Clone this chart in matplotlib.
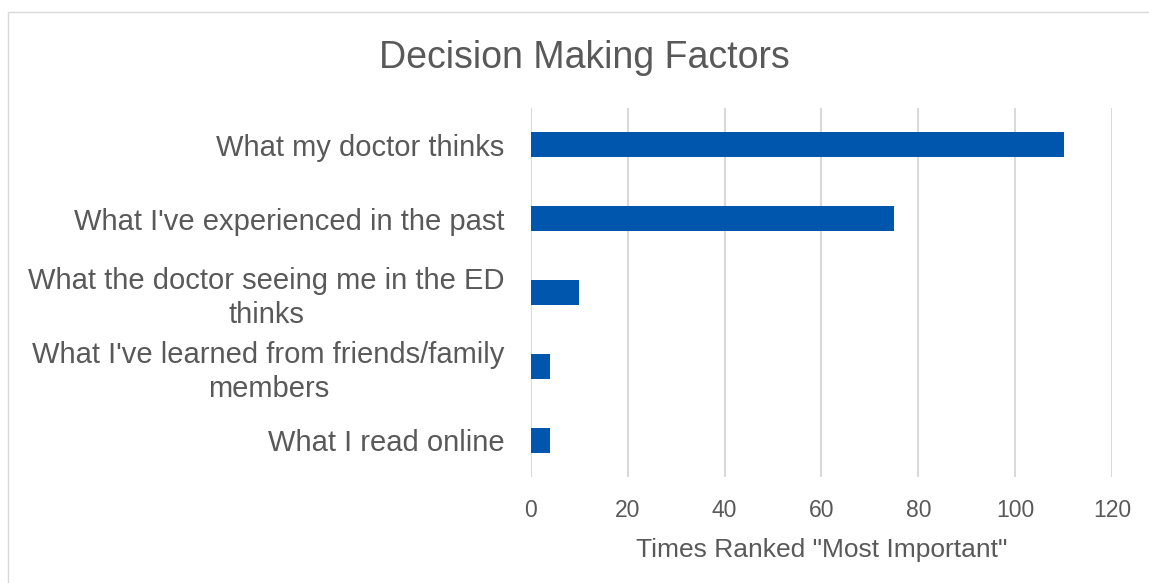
import matplotlib
matplotlib.use("Agg")
from matplotlib import pyplot as plt
from matplotlib.patches import Rectangle

factors = [
    "What my doctor thinks",
    "What I've experienced in the past",
    "What the doctor seeing me in the ED\nthinks",
    "What I've learned from friends/family\nmembers",
    "What I read online",
]
counts = [110, 75, 10, 4, 4]
ticks = [0, 20, 40, 60, 80, 100, 120]

plt.rcParams["font.family"] = ["Liberation Sans", "DejaVu Sans"]
text_color = "#595959"

fig = plt.figure(figsize=(11.49, 5.83), dpi=100)
ax = fig.add_axes([0.4621, 0.1818, 0.5057, 0.633])

y = list(range(len(factors)))
ax.barh(y, counts, height=0.34, color="#0055AD", zorder=3)
ax.set_ylim(len(factors) - 0.5, -0.5)
ax.set_yticks(y, factors, fontsize=21, color=text_color, linespacing=1.25)
ax.set_xlim(0, 120)
ax.set_xticks(ticks)
ax.tick_params(axis="x", labelsize=16.5, colors=text_color, length=0, pad=16)
ax.tick_params(axis="y", length=0, pad=19)
for lbl in ax.get_yticklabels():
    lbl.set_horizontalalignment("right")
    lbl.set_multialignment("center")
ax.grid(axis="x", color="#D9D9D9", linewidth=1.5, zorder=0)
for s in ax.spines.values():
    s.set_visible(False)
ax.set_xlabel('Times Ranked "Most Important"', fontsize=19, color=text_color, labelpad=11)

fig.text(0.5083, 0.9, "Decision Making Factors", fontsize=27, color=text_color,
         ha="center", va="center")
fig.patches.append(Rectangle((8 / 1149, -0.01), 1.02, 1 - 12 / 583 + 0.01,
                             transform=fig.transFigure, fill=False,
                             edgecolor="#D9D9D9", linewidth=1))

fig.savefig("out.png", dpi=100)
